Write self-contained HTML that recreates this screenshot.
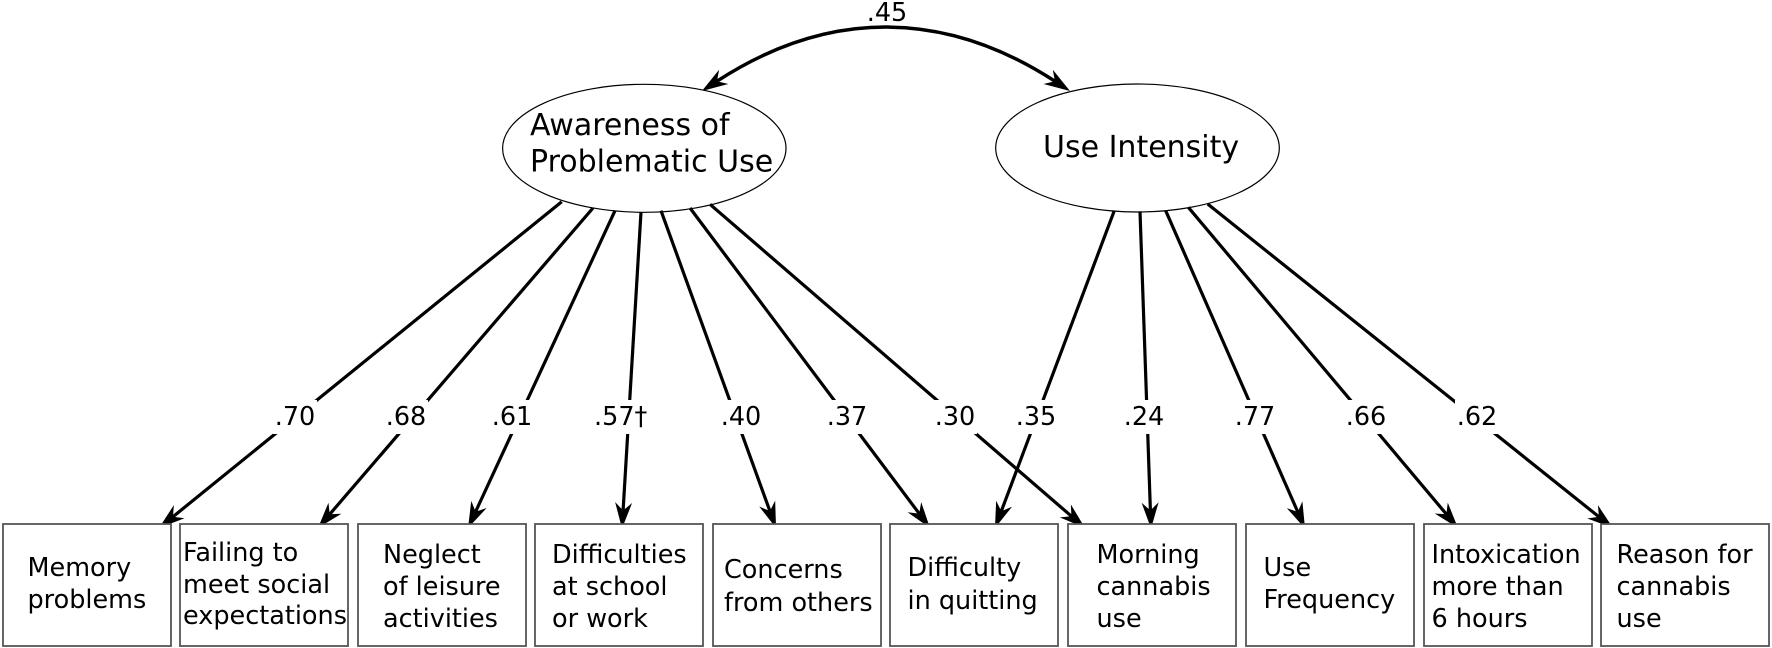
<!DOCTYPE html>
<html>
<head>
<meta charset="utf-8">
<style>
  html, body { margin: 0; padding: 0; background: #ffffff; }
  body { width: 1772px; height: 648px; overflow: hidden; }
  svg { display: block; }
  text { font-family: "DejaVu Sans", "Liberation Sans", sans-serif; fill: #000; }
  .box { fill: #fff; stroke: #555; stroke-width: 1.8; }
  .bt { font-size: 25.5px; }
  .lbl { font-size: 25.5px; text-anchor: middle; }
  .ln { stroke: #000; stroke-width: 3.2; fill: none; marker-end: url(#ah); }
</style>
</head>
<body>
<svg width="1772" height="648" viewBox="0 0 1772 648" xmlns="http://www.w3.org/2000/svg">
  <defs>
    <marker id="ah" markerUnits="userSpaceOnUse" viewBox="-10 -10 30 20" markerWidth="30" markerHeight="20" refX="0" refY="0" orient="auto" overflow="visible">
      <path d="M18,0 L-8,-8.5 L0,0 L-8,8.5 Z" fill="#000"/>
    </marker>
    <marker id="ahs" markerUnits="userSpaceOnUse" viewBox="-10 -10 30 20" markerWidth="30" markerHeight="20" refX="0" refY="0" orient="auto-start-reverse" overflow="visible">
      <path d="M18,0 L-8,-8.5 L0,0 L-8,8.5 Z" fill="#000"/>
    </marker>
  </defs>

  <rect x="0" y="0" width="1772" height="648" fill="#fff"/>

  <!-- correlation curve -->
  <path d="M717,81.2 C828,9 944,9 1054.9,81.2" stroke="#000" stroke-width="3.5" fill="none" marker-start="url(#ahs)" marker-end="url(#ahs)"/>
  <text class="lbl" x="887" y="21">.45</text>

  <!-- ellipses -->
  <ellipse cx="644.3" cy="148.3" rx="141.7" ry="64" fill="#fff" stroke="#000" stroke-width="1.2"/>
  <ellipse cx="1137.5" cy="148" rx="141.8" ry="64" fill="#fff" stroke="#000" stroke-width="1.2"/>
  <text x="530" y="135" style="font-size:30px">Awareness of</text>
  <text x="530" y="171.7" style="font-size:30px">Problematic Use</text>
  <text x="1043" y="157" style="font-size:30px">Use Intensity</text>

  <!-- loading lines -->
  <line class="ln" x1="561.7" y1="201.7" x2="173.0" y2="516.7"/>
  <line class="ln" x1="593" y1="208" x2="329.7" y2="514.3"/>
  <line class="ln" x1="615" y1="210.7" x2="475.6" y2="511.7"/>
  <line class="ln" x1="641" y1="212" x2="623.1" y2="510.5"/>
  <line class="ln" x1="661" y1="210.7" x2="769.9" y2="511.1"/>
  <line class="ln" x1="690" y1="208" x2="919.2" y2="513.6"/>
  <line class="ln" x1="710" y1="204.3" x2="1071.4" y2="516.2"/>
  <line class="ln" x1="1114.3" y1="210.7" x2="1001.3" y2="511.2"/>
  <line class="ln" x1="1140" y1="211.3" x2="1150.4" y2="510.5"/>
  <line class="ln" x1="1165.7" y1="210.7" x2="1297.8" y2="512.0"/>
  <line class="ln" x1="1188.3" y1="207.3" x2="1446.4" y2="514.2"/>
  <line class="ln" x1="1207.7" y1="204" x2="1598.9" y2="516.8"/>

  <!-- label backgrounds -->
  <g fill="#fff">
    <rect x="273" y="400" width="44" height="34"/>
    <rect x="384" y="400" width="44" height="34"/>
    <rect x="490" y="400" width="44" height="34"/>
    <rect x="592" y="400" width="62" height="34"/>
    <rect x="719" y="400" width="44" height="34"/>
    <rect x="825" y="400" width="44" height="34"/>
    <rect x="933" y="400" width="44" height="34"/>
    <rect x="1014" y="400" width="44" height="34"/>
    <rect x="1122" y="400" width="44" height="34"/>
    <rect x="1233" y="400" width="44" height="34"/>
    <rect x="1344" y="400" width="44" height="34"/>
    <rect x="1455" y="400" width="44" height="34"/>
  </g>
  <text class="lbl" x="295" y="425">.70</text>
  <text class="lbl" x="406" y="425">.68</text>
  <text class="lbl" x="512" y="425">.61</text>
  <text x="594" y="425" style="font-size:25.5px">.57†</text>
  <text class="lbl" x="741" y="425">.40</text>
  <text class="lbl" x="847" y="425">.37</text>
  <text class="lbl" x="955" y="425">.30</text>
  <text class="lbl" x="1036" y="425">.35</text>
  <text class="lbl" x="1144" y="425">.24</text>
  <text class="lbl" x="1255" y="425">.77</text>
  <text class="lbl" x="1366" y="425">.66</text>
  <text class="lbl" x="1477" y="425">.62</text>

  <!-- boxes -->
  <rect class="box" x="3" y="524" width="168" height="122"/>
  <rect class="box" x="180" y="524" width="168" height="122"/>
  <rect class="box" x="358" y="524" width="168" height="122"/>
  <rect class="box" x="535" y="524" width="168" height="122"/>
  <rect class="box" x="713" y="524" width="168" height="122"/>
  <rect class="box" x="890" y="524" width="168" height="122"/>
  <rect class="box" x="1068" y="524" width="168" height="122"/>
  <rect class="box" x="1246" y="524" width="168" height="122"/>
  <rect class="box" x="1424" y="524" width="168" height="122"/>
  <rect class="box" x="1601" y="524" width="168" height="122"/>

  <!-- box texts -->
  <text class="bt" x="27.5" y="576">Memory</text>
  <text class="bt" x="27.5" y="608">problems</text>

  <text class="bt" x="183" y="561">Failing to</text>
  <text class="bt" x="183" y="593">meet social</text>
  <text class="bt" x="183" y="624">expectations</text>

  <text class="bt" x="383" y="563">Neglect</text>
  <text class="bt" x="383" y="595">of leisure</text>
  <text class="bt" x="383" y="627">activities</text>

  <text class="bt" x="552" y="563">Difficulties</text>
  <text class="bt" x="552" y="595">at school</text>
  <text class="bt" x="552" y="627">or work</text>

  <text class="bt" x="724" y="578">Concerns</text>
  <text class="bt" x="724" y="611">from others</text>

  <text class="bt" x="907.5" y="576">Difficulty</text>
  <text class="bt" x="907.5" y="609">in quitting</text>

  <text class="bt" x="1096.5" y="563">Morning</text>
  <text class="bt" x="1096.5" y="595">cannabis</text>
  <text class="bt" x="1096.5" y="627">use</text>

  <text class="bt" x="1263.5" y="576">Use</text>
  <text class="bt" x="1263.5" y="608">Frequency</text>

  <text class="bt" x="1431.5" y="563">Intoxication</text>
  <text class="bt" x="1431.5" y="595">more than</text>
  <text class="bt" x="1431.5" y="627">6 hours</text>

  <text class="bt" x="1616.5" y="563">Reason for</text>
  <text class="bt" x="1616.5" y="595">cannabis</text>
  <text class="bt" x="1616.5" y="627">use</text>
</svg>
</body>
</html>
